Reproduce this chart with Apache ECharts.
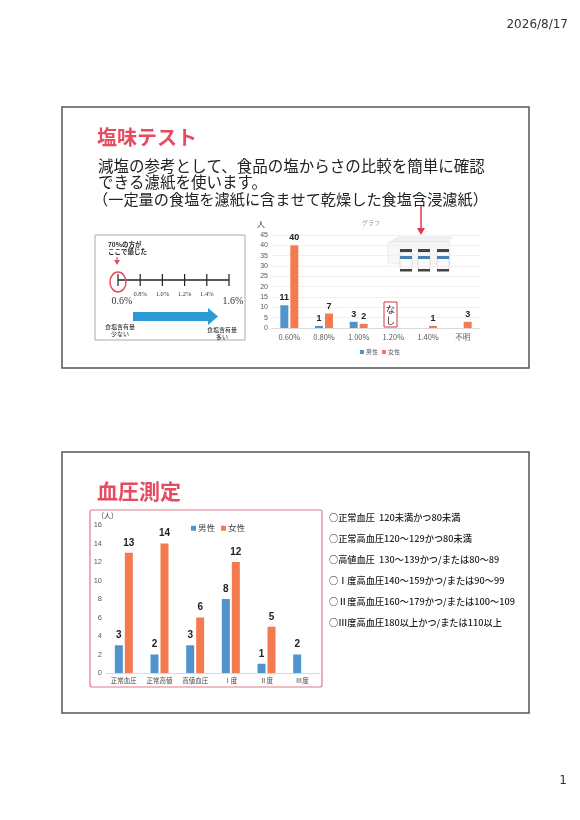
<!DOCTYPE html>
<html>
<head>
<meta charset="utf-8">
<script src="https://cdn.jsdelivr.net/npm/echarts@6/dist/echarts.min.js"></script>
<style>
  html, body { margin: 0; padding: 0; background: #fff; }
  #page { width: 580px; height: 820px; }
</style>
</head>
<body>
<div id="page"></div>
<script>
// ---- data ----
var dateText = '2026/8/17';
var pageNo = '1';

var saltTitle = '塩味テスト';
var saltIntro = [
	'減塩の参考として、食品の塩からさの比較を簡単に確認',
	'できる濾紙を使います。',
	'（一定量の食塩を濾紙に含ませて乾燥した食塩含浸濾紙）'
];
var saltCategories = ['0.60%', '0.80%', '1.00%', '1.20%', '1.40%', '不明'];
var saltMale = [11, 1, 3, null, null, null];
var saltFemale = [40, 7, 2, null, 1, 3];
var saltTickValues = [0.6, 0.8, 1.0, 1.2, 1.4, 1.6];
var saltTickLabels = ['0.6%', '0.8%', '1.0%', '1.2%', '1.4%', '1.6%'];

var bpTitle = '血圧測定';
var bpCategories = ['正常血圧', '正常高値', '高値血圧', 'Ⅰ度', 'Ⅱ度', 'Ⅲ度'];
var bpMale = [3, 2, 3, 8, 1, 2];
var bpFemale = [13, 14, 6, 12, 5, null];
var bpCriteria = [
	'○正常血圧  120未満かつ80未満',
	'○正常高血圧120～129かつ80未満',
	'○高値血圧  130～139かつ/または80～89',
	'○Ⅰ度高血圧140～159かつ/または90～99',
	'○Ⅱ度高血圧160～179かつ/または100～109',
	'○Ⅲ度高血圧180以上かつ/または110以上'
];

var maleColor = '#4f94cd';
var femaleColor = '#f47a50';
var red = '#e84a5f';
var jp = '"Noto Sans CJK JP", sans-serif';

function txt(x, y, text, size, opt) {
	opt = opt || {};
	return {
		type: 'text',
		z: 10,
		style: {
			x: x, y: y, text: text,
			fontSize: size,
			fontFamily: opt.family || jp,
			fontWeight: opt.weight || 'normal',
			fill: opt.fill || '#222',
			textAlign: opt.align || 'left',
			textVerticalAlign: 'middle'
		}
	};
}

var els = [];

// header / footer
els.push(txt(568, 25, dateText, 12, {align: 'right', fill: '#333', family: '"DejaVu Sans", sans-serif'}));
els.push(txt(567, 781, pageNo, 12, {align: 'right', fill: '#333', family: '"DejaVu Sans", sans-serif'}));

// slide frames
els.push({type: 'rect', shape: {x: 62, y: 107, width: 467, height: 261}, style: {fill: 'transparent', stroke: '#555', lineWidth: 1.5}});
els.push({type: 'rect', shape: {x: 62, y: 452, width: 467, height: 261}, style: {fill: 'transparent', stroke: '#555', lineWidth: 1.5}});

// slide 1 texts
els.push(txt(97, 137, saltTitle, 20, {fill: red, weight: 'bold'}));
els.push(txt(98, 166, saltIntro[0], 15.5));
els.push(txt(98, 182, saltIntro[1], 15.5));
els.push(txt(93, 199, saltIntro[2], 15.2));

// scale illustration
els.push({type: 'rect', shape: {x: 95, y: 235, width: 150, height: 105}, style: {fill: 'transparent', stroke: '#aaa', lineWidth: 1}});
els.push(txt(108, 245, '70%の方が', 6.5, {weight: 'bold'}));
els.push(txt(108, 252, 'ここで感じた', 6.5, {weight: 'bold'}));
els.push({type: 'line', shape: {x1: 117, y1: 257, x2: 117, y2: 261}, style: {stroke: red, lineWidth: 1.2}});
els.push({type: 'polygon', shape: {points: [[114, 260], [120, 260], [117, 265]]}, style: {fill: red}});
var scaleX = function (v) { return 118 + (v - 0.6) / 1.0 * 111; };
els.push({type: 'line', shape: {x1: scaleX(0.6), y1: 280, x2: scaleX(1.6), y2: 280}, style: {stroke: '#222', lineWidth: 1.5}});
saltTickValues.forEach(function (v, i) {
	var x = scaleX(v);
	els.push({type: 'line', shape: {x1: x, y1: 274, x2: x, y2: 286}, style: {stroke: '#222', lineWidth: 1.2}});
	var big = (i === 0 || i === saltTickValues.length - 1);
	els.push(txt(x + (big ? 4 : 0), big ? 301 : 294, saltTickLabels[i], big ? 10 : 6.5,
		{align: 'center', family: '"Liberation Serif", serif', fill: '#333'}));
});
els.push({type: 'ellipse', shape: {cx: 118, cy: 282, rx: 8, ry: 10}, style: {fill: 'transparent', stroke: red, lineWidth: 1.5}});
els.push({type: 'polygon', shape: {points: [[133, 312], [208, 312], [208, 308], [218, 316.5], [208, 325], [208, 321], [133, 321]]}, style: {fill: '#2d9ad8'}});
els.push(txt(120, 327, '食塩含有量', 6, {align: 'center'}));
els.push(txt(120, 334, '少ない', 6, {align: 'center'}));
els.push(txt(222, 330, '食塩含有量', 6, {align: 'center'}));
els.push(txt(222, 337, '多い', 6, {align: 'center'}));

// salt chart annotations
els.push(txt(257, 224, '人', 8, {fill: '#333'}));
els.push(txt(362, 223, 'グラフ', 6, {fill: '#999'}));
els.push({type: 'rect', z: 10, shape: {x: 384, y: 302, width: 13, height: 25}, style: {fill: '#fff', stroke: '#d9334a', lineWidth: 1}});
els.push(txt(390.5, 309, 'な', 9.5, {align: 'center'}));
els.push(txt(390.5, 320, 'し', 9.5, {align: 'center'}));

// product picture (filter paper kit)
els.push({type: 'line', shape: {x1: 421, y1: 205, x2: 421, y2: 229}, style: {stroke: '#e03a4e', lineWidth: 1.5}});
els.push({type: 'polygon', shape: {points: [[417, 228], [425, 228], [421, 235]]}, style: {fill: '#e03a4e'}});
els.push({type: 'polygon', shape: {points: [[390, 242], [398, 237], [452, 237], [448, 242]]}, style: {fill: '#f1f1f1', stroke: '#ddd', lineWidth: 0.5}});
els.push({type: 'rect', shape: {x: 388, y: 242, width: 62, height: 22}, style: {fill: '#f8f8f8', stroke: '#ddd', lineWidth: 0.5}});
[406, 424, 443].forEach(function (cx) {
	els.push({type: 'rect', shape: {x: cx - 6, y: 252, width: 12, height: 18, r: 1}, style: {fill: '#fafafa', stroke: '#bbb', lineWidth: 0.5}});
	els.push({type: 'rect', shape: {x: cx - 6, y: 249, width: 12, height: 3}, style: {fill: '#444'}});
	els.push({type: 'rect', shape: {x: cx - 6, y: 256, width: 12, height: 3}, style: {fill: '#4a7fb5'}});
	els.push({type: 'rect', shape: {x: cx - 6, y: 269, width: 12, height: 2.5}, style: {fill: '#444'}});
});

// slide 2 texts
els.push(txt(97, 491, bpTitle, 21, {fill: red, weight: 'bold'}));
els.push({type: 'rect', shape: {x: 90, y: 510, width: 232, height: 177, r: 2}, style: {fill: 'transparent', stroke: '#e07a8a', lineWidth: 1.2}});
els.push(txt(97, 515, '（人）', 7, {fill: '#333'}));
var critY = [518, 539, 560, 581, 602, 623];
bpCriteria.forEach(function (line, i) {
	els.push(txt(329, critY[i], line, 9.2, {fill: '#222', weight: 500}));
});

var labelStyle = function (size, dist) {
	return {show: true, position: 'top', distance: dist, fontSize: size, fontWeight: 'bold',
		color: '#222', fontFamily: '"Liberation Sans", Arial, sans-serif'};
};

var option = {
	animation: false,
	backgroundColor: '#fff',
	textStyle: {fontFamily: jp},
	graphic: {elements: els},
	legend: [
		{
			data: ['男性', '女性'], left: 355, top: 344, itemWidth: 4, itemHeight: 4, itemGap: 4,
			icon: 'rect', textStyle: {fontSize: 6, color: '#555', padding: [0, 0, 0, -3]}
		},
		{
			data: ['男性', '女性'], left: 186, top: 519, itemWidth: 5, itemHeight: 5, itemGap: 6,
			icon: 'rect', textStyle: {fontSize: 8.5, color: '#444', padding: [0, 0, 0, -3]}
		}
	],
	grid: [
		{left: 272, right: 100, top: 235, bottom: 492},
		{left: 106, right: 260, top: 525, bottom: 147}
	],
	xAxis: [
		{
			gridIndex: 0, type: 'category', data: saltCategories,
			axisLine: {lineStyle: {color: '#d9d9d9'}}, axisTick: {show: false},
			axisLabel: {fontSize: 7.5, color: '#595959', margin: 5}
		},
		{
			gridIndex: 1, type: 'category', data: bpCategories,
			axisLine: {lineStyle: {color: '#d9d9d9'}}, axisTick: {show: false},
			axisLabel: {fontSize: 6.5, color: '#444', margin: 4}
		}
	],
	yAxis: [
		{
			gridIndex: 0, type: 'value', min: 0, max: 45, interval: 5,
			axisLine: {show: false}, axisTick: {show: false},
			axisLabel: {fontSize: 7, color: '#595959', margin: 4, fontFamily: '"Liberation Sans", Arial'},
			splitLine: {lineStyle: {color: '#f0f0f0'}}
		},
		{
			gridIndex: 1, type: 'value', min: 0, max: 16, interval: 2,
			axisLine: {show: false}, axisTick: {show: false},
			axisLabel: {fontSize: 7.5, color: '#595959', margin: 4, fontFamily: '"Liberation Sans", Arial'},
			splitLine: {show: false}
		}
	],
	series: [
		{
			name: '男性', type: 'bar', xAxisIndex: 0, yAxisIndex: 0, data: saltMale,
			barWidth: 8, barGap: '25%', itemStyle: {color: maleColor}, label: labelStyle(9, 3)
		},
		{
			name: '女性', type: 'bar', xAxisIndex: 0, yAxisIndex: 0, data: saltFemale,
			barWidth: 8, barGap: '25%', itemStyle: {color: femaleColor}, label: labelStyle(9, 3)
		},
		{
			name: '男性', type: 'bar', xAxisIndex: 1, yAxisIndex: 1, data: bpMale,
			barWidth: 8, barGap: '25%', itemStyle: {color: maleColor}, label: labelStyle(10, 5)
		},
		{
			name: '女性', type: 'bar', xAxisIndex: 1, yAxisIndex: 1, data: bpFemale,
			barWidth: 8, barGap: '25%', itemStyle: {color: femaleColor}, label: labelStyle(10, 5)
		}
	]
};

var chart = echarts.init(document.getElementById('page'));
chart.setOption(option);
</script>
</body>
</html>
